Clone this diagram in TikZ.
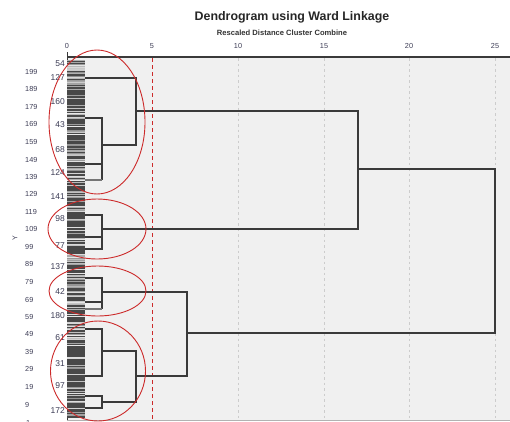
\documentclass[tikz,border=0pt]{standalone}
\usepackage{fontspec}
\setmainfont{Liberation Sans}
\definecolor{bgc}{HTML}{F0F0F0}
\definecolor{lnc}{HTML}{3A3A3A}
\definecolor{redc}{HTML}{CC2A2A}
\definecolor{lblc}{HTML}{3C3C55}
\definecolor{barc}{HTML}{484848}
\begin{document}
\begin{tikzpicture}[x=1pt,y=-1pt,
  link/.style={draw=lnc,line width=1.3pt},
  lightlink/.style={draw=lnc!70,line width=1.2pt},
  grid/.style={draw=gray!40,line width=0.6pt,dash pattern=on 2.5pt off 3pt},
  cut/.style={draw=redc,line width=1pt,dash pattern=on 4pt off 3pt},
  ring/.style={draw=redc,line width=0.9pt},
  leaf/.style={anchor=east,font=\fontsize{8.5}{9}\selectfont,text=lblc,inner sep=0pt},
  outer/.style={anchor=west,font=\fontsize{7.3}{8}\selectfont,text=lblc,inner sep=0pt},
  tick/.style={anchor=south,font=\fontsize{7.3}{8}\selectfont,text=lblc,inner sep=0pt}]
\useasboundingbox (0,0) rectangle (510,421);
% plot area
\fill[bgc] (67,57) rectangle (510,420);
\draw[gray!60,line width=0.6pt] (67,420) -- (510,420);
% grid lines
\foreach \x in {238,324,409,495} \draw[grid] (\x,58) -- (\x,420);
\draw[cut] (152,58) -- (152,420);
% axis
\draw[lnc,line width=1.1pt] (67,57) -- (510,57);
\draw[lnc,line width=0.8pt] (67,52) -- (67,420);
% title
\node[font=\bfseries\fontsize{12.4}{13}\selectfont,text=black!85] (title) at (292,17) {Dendrogram using Ward Linkage};
\node[font=\bfseries\fontsize{7.6}{8}\selectfont,text=black!80] (sub) at (282,33) {Rescaled Distance Cluster Combine};
% ticks
\node[tick] (t0) at (67,49) {0};
\node[tick] (t5) at (152,49) {5};
\node[tick] (t10) at (238,49) {10};
\node[tick] (t15) at (324,49) {15};
\node[tick] (t20) at (409,49) {20};
\node[tick] (t25) at (495,49) {25};
% bar
\fill[barc] (67,60) rectangle (85,418);
\pgfmathsetseed{11}
\foreach \i in {1,...,200}{
  \pgfmathsetmacro{\yy}{60+rnd*358}
  \pgfmathsetmacro{\ww}{0.15+0.35*rnd}
  \pgfmathsetmacro{\cc}{40+50*rnd}
  \draw[white!\cc!barc,line width=\ww pt] (67,\yy) -- (85,\yy);
}
% outer labels
\foreach \v/\y in {199/72,189/89,179/107,169/124,159/142,149/160,139/177,129/194,119/212,109/229,99/247,89/264,79/282,69/300,59/317,49/334,39/352,29/369,19/387,9/405}
  \node[outer] (o\v) at (25,\y) {\v};
\node[outer] (o1) at (26,423) {1};
\node[font=\fontsize{7}{8}\selectfont,text=lblc,rotate=90] (ylab) at (15,238) {Y};
% leaf labels
\foreach \v/\y in {54/64,127/78,160/102,43/125,68/150,124/173,141/197,98/219,77/246,137/267,42/292,180/316,61/338,31/364,97/386,172/411}
  \node[leaf] (l\v) at (65,\y) {\v};
% dendrogram
% cluster 1
\draw[link] (85,78) -- (136,78) -- (136,145) -- (102,145);
\draw[link] (85,118) -- (102,118) -- (102,180);
\draw[link] (85,164) -- (102,164);
\draw[lightlink] (85,180) -- (102,180);
\draw[link] (136,111) -- (358,111) -- (358,229) -- (102,229);
% cluster 2
\draw[link] (85,215) -- (102,215) -- (102,249) -- (85,249);
\draw[link] (85,237) -- (102,237);
% upper join
\draw[link] (358,169) -- (495,169) -- (495,333) -- (187,333);
% cluster 3
\draw[link] (85,278) -- (102,278) -- (102,309);
\draw[link] (85,302) -- (102,302);
\draw[lightlink] (85,309) -- (102,309);
\draw[link] (102,292) -- (187,292) -- (187,376) -- (137,376);
% cluster 4
\draw[link] (85,329) -- (102,329) -- (102,376) -- (85,376);
\draw[link] (102,351) -- (136,351) -- (136,402) -- (102,402);
\draw[link] (85,396) -- (102,396) -- (102,408) -- (85,408);
% ellipses
\draw[ring] (97,122) ellipse [x radius=48,y radius=72];
\draw[ring] (97,229) ellipse [x radius=49,y radius=30];
\draw[ring] (97.5,291) ellipse [x radius=48.5,y radius=25];
\draw[ring] (98,371) ellipse [x radius=47.5,y radius=50];
\end{tikzpicture}
\end{document}
